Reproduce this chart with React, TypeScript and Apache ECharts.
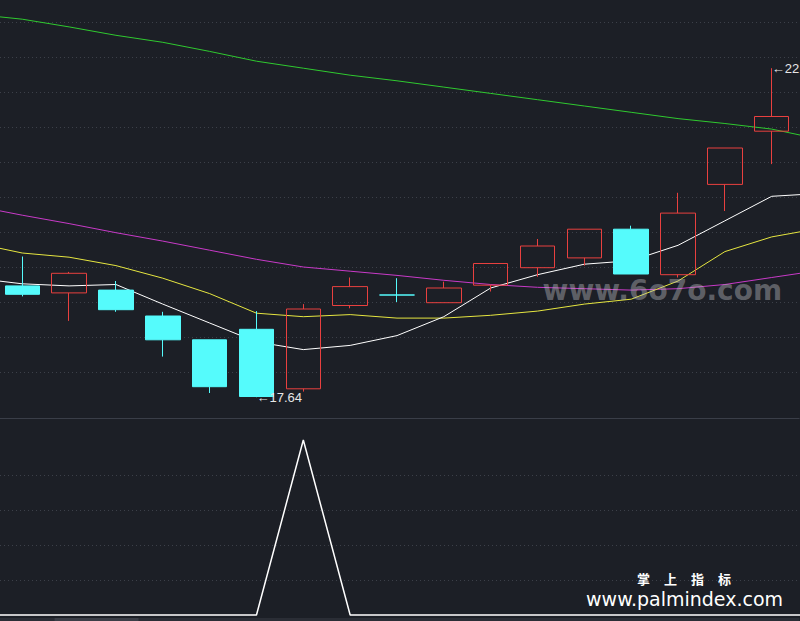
import React, { useEffect, useRef } from 'react';
import * as echarts from 'echarts';

// 19 category slots: one hidden on the left, 17 visible candles, one hidden on the right
const categories = [
  'K00', 'K01', 'K02', 'K03', 'K04', 'K05', 'K06', 'K07', 'K08', 'K09',
  'K10', 'K11', 'K12', 'K13', 'K14', 'K15', 'K16', 'K17', 'K18',
];

// [open, close, low, high]
const candles = [
  ['-', '-', '-', '-'],
  [19.23, 19.11, 19.08, 19.65],
  [19.13, 19.41, 18.73, 19.43],
  [19.17, 18.89, 18.86, 19.30],
  [18.80, 18.46, 18.22, 18.86],
  [18.46, 17.79, 17.70, 18.46],
  [18.61, 17.65, 17.64, 18.87],
  [17.76, 18.90, 17.72, 18.97],
  [18.95, 19.22, 18.91, 19.35],
  [19.10, 19.10, 19.00, 19.34],
  [18.99, 19.20, 18.99, 19.29],
  [19.24, 19.55, 19.15, 19.55],
  [19.49, 19.80, 19.36, 19.90],
  [19.63, 20.04, 19.52, 20.04],
  [20.04, 19.40, 19.40, 20.09],
  [19.39, 20.27, 19.35, 20.56],
  [20.68, 21.20, 20.30, 21.20],
  [21.44, 21.65, 20.97, 22.34],
];

const maWhite = [19.34, 19.26, 19.23, 19.25, 18.97, 18.70, 18.43, 18.32, 18.38, 18.52,
  18.79, 19.20, 19.39, 19.54, 19.59, 19.81, 20.16, 20.51, 20.55];
const maYellow = [19.84, 19.70, 19.64, 19.52, 19.34, 19.12, 18.84, 18.79, 18.82, 18.77,
  18.77, 18.81, 18.87, 18.97, 19.04, 19.30, 19.72, 19.93, 20.05];
const maMagenta = [20.37, 20.24, 20.12, 19.99, 19.87, 19.74, 19.61, 19.50, 19.44, 19.38,
  19.31, 19.25, 19.21, 19.19, 19.17, 19.19, 19.25, 19.35, 19.45];
const maGreen = [23.11, 23.04, 22.93, 22.81, 22.71, 22.58, 22.44, 22.34, 22.24, 22.16,
  22.07, 21.98, 21.89, 21.80, 21.71, 21.62, 21.55, 21.47, 21.33];

const signal = [0, 0, 0, 0, 0, 0, 0, 5, 0, 0, 0, 0, 0, 0, 0, 0, 0, 0, 0];

const lowMark = { cat: 'K06', value: 17.64, text: '←17.64' };
const highMark = { cat: 'K17', value: 22.34, text: '←22.34' };

const brandChars = ['掌', '上', '指', '标'];
const brandUrl = 'www.palmindex.com';
const siteMark = 'www.6o7o.com';

const priceMin = 17.5;
const priceMax = 23.5;
const priceStep = 0.5;
const signalMin = 0;
const signalMax = 5;
const signalStep = 1;

const BG = '#1c1f26';
const GRID_LINE = '#3c4049';
const UP = '#e8403f';
const DOWN = '#55fbfc';

const BAND = 46.83;
const OFFSET_X = 47.55; // the first (hidden) slot lies left of the visible window
const CHART_W = BAND * categories.length;

export default function App() {
  const ref = useRef<HTMLDivElement>(null);

  useEffect(() => {
    if (!ref.current) return;
    const chart = echarts.init(ref.current, null, { renderer: 'svg' });

    const splitLine = {
      show: true,
      showMinLine: false,
      showMaxLine: false,
      lineStyle: { color: GRID_LINE, type: [1, 3], width: 1 },
    };

    const lineSeries = (name: string, data: number[], color: string) => ({
      name,
      type: 'line',
      xAxisIndex: 0,
      yAxisIndex: 0,
      data,
      symbol: 'none',
      clip: false,
      lineStyle: { color, width: 1 },
      z: 3,
    });

    const X = (x: number) => x + OFFSET_X;
    const Y = (y: number) => y + 13;

    chart.setOption({
      animation: false,
      backgroundColor: BG,
      grid: [
        { left: 0, right: 0, top: 0, height: 420 },
        { left: 0, right: 0, top: 453, height: 175 },
      ],
      xAxis: [
        {
          type: 'category', gridIndex: 0, data: categories, boundaryGap: true,
          axisLine: { show: false }, axisTick: { show: false }, axisLabel: { show: false },
          splitLine: { show: false },
        },
        {
          type: 'category', gridIndex: 1, data: categories, boundaryGap: true,
          axisLine: { show: false }, axisTick: { show: false }, axisLabel: { show: false },
          splitLine: { show: false },
        },
      ],
      yAxis: [
        {
          type: 'value', gridIndex: 0, min: priceMin, max: priceMax, interval: priceStep,
          axisLine: { show: false }, axisTick: { show: false }, axisLabel: { show: false },
          splitLine,
        },
        {
          type: 'value', gridIndex: 1, min: signalMin, max: signalMax, interval: signalStep,
          axisLine: { show: false }, axisTick: { show: false }, axisLabel: { show: false },
          splitLine,
        },
      ],
      series: [
        lineSeries('MA60', maGreen, '#2fc92f'),
        lineSeries('MA20', maMagenta, '#c83ac8'),
        lineSeries('MA10', maYellow, '#e6e640'),
        lineSeries('MA5', maWhite, '#ffffff'),
        {
          name: 'K',
          type: 'candlestick',
          xAxisIndex: 0,
          yAxisIndex: 0,
          data: candles,
          barWidth: 35,
          z: 4,
          itemStyle: {
            color: 'transparent',
            color0: DOWN,
            borderColor: UP,
            borderColor0: DOWN,
            borderWidth: 1,
          },
          markPoint: {
            symbol: 'circle',
            symbolSize: 0,
            data: [
              { coord: [lowMark.cat, lowMark.value], value: lowMark.value,
                label: { formatter: lowMark.text } },
              { coord: [highMark.cat, highMark.value], value: highMark.value,
                label: { formatter: highMark.text } },
            ],
            label: {
              show: true,
              position: 'right',
              distance: 0,
              color: '#e6e6e6',
              fontSize: 13,
              fontFamily: 'Liberation Sans, Arial, sans-serif',
            },
          },
        },
        {
          name: 'Signal',
          type: 'line',
          xAxisIndex: 1,
          yAxisIndex: 1,
          data: signal,
          symbol: 'none',
          clip: false,
          lineStyle: { color: '#ffffff', width: 1.5 },
        },
      ],
      graphic: [
        {
          type: 'line',
          shape: { x1: X(0), y1: Y(418.5), x2: X(800), y2: Y(418.5) },
          style: { stroke: '#3a3e48', lineWidth: 1 },
          silent: true,
        },
        {
          type: 'rect',
          shape: { x: X(0), y: Y(618), width: 800, height: 3 },
          style: { fill: '#2a2d35' },
          silent: true,
        },
        {
          type: 'rect',
          shape: { x: X(55), y: Y(618), width: 84, height: 3 },
          style: { fill: '#3b3e47' },
          silent: true,
        },
        {
          type: 'text',
          x: X(543),
          y: Y(290),
          z: 10,
          style: {
            text: siteMark,
            fill: 'rgba(190,190,195,0.42)',
            font: 'bold 28px "DejaVu Sans", sans-serif',
            verticalAlign: 'middle',
          },
          silent: true,
        },
        ...brandChars.map((ch, i) => ({
          type: 'text',
          x: X(644 + i * 27),
          y: Y(578),
          z: 10,
          style: {
            text: ch,
            fill: '#ffffff',
            font: 'bold 13px "Noto Sans CJK SC", sans-serif',
            align: 'center',
            verticalAlign: 'middle',
          },
          silent: true,
        })),
        {
          type: 'text',
          x: X(685),
          y: Y(598.5),
          z: 10,
          style: {
            text: brandUrl,
            fill: '#ffffff',
            font: '19px "DejaVu Sans", sans-serif',
            align: 'center',
            verticalAlign: 'middle',
          },
          silent: true,
        },
      ],
    });

    return () => chart.dispose();
  }, []);

  return (
    <div
      style={{
        position: 'fixed', left: 0, top: 0, width: 800, height: 621,
        overflow: 'hidden', background: BG,
      }}
    >
      <div
        ref={ref}
        style={{
          position: 'absolute', left: -OFFSET_X, top: -13,
          width: CHART_W, height: 634,
        }}
      />
    </div>
  );
}
